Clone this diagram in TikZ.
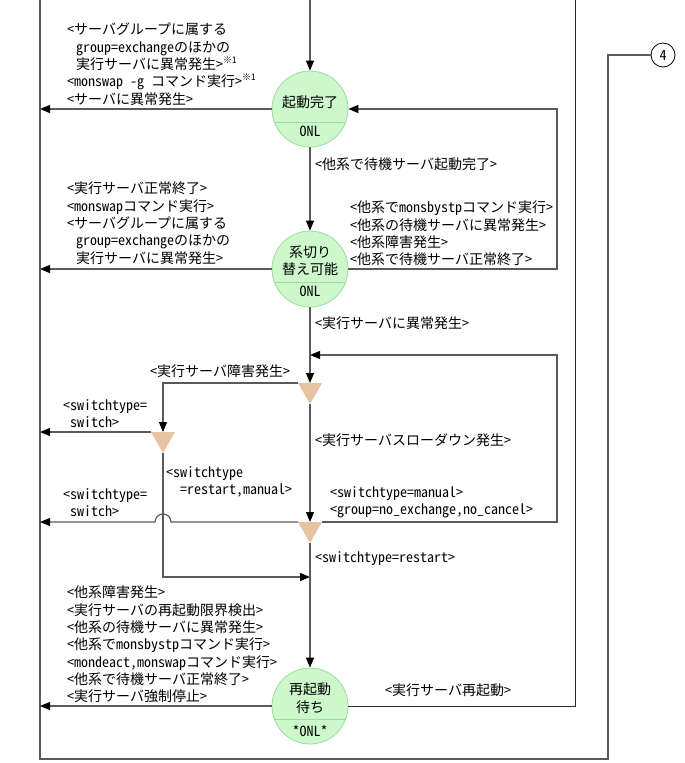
\documentclass[tikz,border=0pt]{standalone}
\usepackage{fontspec}
\setmainfont{Noto Sans CJK JP}[RawFeature={+hwid}]
\usetikzlibrary{arrows.meta}
\definecolor{ln}{HTML}{5A5A5A}
\definecolor{stfill}{HTML}{CCF8CC}
\definecolor{stdraw}{HTML}{9CDC9C}
\definecolor{trifill}{HTML}{E6C4A2}
\newcommand\kome{\raisebox{0.42em}{\fontsize{9}{9}\selectfont ※1}}
\tikzset{
  conn/.style={draw=ln, line width=1.2pt},
  arr/.style={conn, -{Triangle[length=10pt,width=8pt,color=black]}},
  state/.style={circle, draw=stdraw, fill=stfill, line width=0.8pt, minimum size=76pt, inner sep=0pt},
  lbl/.style={anchor=north west, inner sep=0pt, align=left, font=\fontsize{14}{17.3}\selectfont, execute at begin node=\strut},
  ctext/.style={inner sep=0pt, font=\fontsize{14}{17}\selectfont},
  tri/.style={fill=trifill, draw=none},
}
\begin{document}
\begin{tikzpicture}[x=1pt,y=-1pt]
\useasboundingbox (0,0) rectangle (685,763);

% ---- states ----
\node[state] (s1) at (310,109) {};
\node[state] (s2) at (310,269) {};
\node[state] (s3) at (310,706) {};
\foreach \s in {s1,s2,s3}{
  \draw[stdraw, line width=1pt] ([xshift=-35.7pt,yshift=-13pt]\s.center) -- ([xshift=35.7pt,yshift=-13pt]\s.center);
}
\node[ctext] (s1a) at (310,102) {起動完了};
\node[ctext] (s1b) at (310,131) {ONL};
\node[ctext] (s2a) at (310,252) {系切り};
\node[ctext] (s2b) at (310,269) {替え可能};
\node[ctext] (s2c) at (310,291) {ONL};
\node[ctext] (s3a) at (310,689) {再起動};
\node[ctext] (s3b) at (310,707) {待ち};
\node[ctext] (s3c) at (310,731) {*ONL*};

% ---- connector node 4 ----
\node[circle, draw=black, line width=0.8pt, minimum size=24pt, inner sep=0pt, font=\fontsize{14}{14}\selectfont] (n4) at (663,55) {4};

% ---- triangles (decision points) ----
\coordinate (t1) at (310,383); \coordinate (t1l) at (298,383); \coordinate (t1r) at (322,383); \coordinate (t1b) at (310,404);
\coordinate (t2) at (163,432); \coordinate (t2l) at (151,432); \coordinate (t2r) at (175,432); \coordinate (t2b) at (163,453);
\coordinate (t3) at (310,522); \coordinate (t3l) at (298,522); \coordinate (t3r) at (322,522); \coordinate (t3b) at (310,543);
\fill[tri] (t1l) -- (t1r) -- (t1b) -- cycle;
\fill[tri] (t2l) -- (t2r) -- (t2b) -- cycle;
\fill[tri] (t3l) -- (t3r) -- (t3b) -- cycle;

% ---- helper coordinates ----
\coordinate (top) at (310,0);
\coordinate (F0) at (40,0); \coordinate (F1) at (40,759); \coordinate (F2) at (608,759); \coordinate (F3) at (608,55);
\coordinate (L1) at (40,109); \coordinate (L2) at (40,269); \coordinate (L3) at (40,432);
\coordinate (L4) at (40,522); \coordinate (L5) at (40,706);
\coordinate (R1) at (557,109); \coordinate (R2) at (557,269);
\coordinate (R3) at (557,355); \coordinate (J3) at (310,355);
\coordinate (R4) at (557,522);
\coordinate (C1) at (163,383);
\coordinate (C2) at (163,577); \coordinate (J4) at (310,577);
\coordinate (hop) at (163,522);
\coordinate (R5) at (575,706); \coordinate (T5) at (575,0);

% ---- frame ----
\draw[conn] (F0) -- (F1) -- (F2) -- (F3) -- (n4);
\draw[draw=black!85, line width=1pt] (s3) -- (R5) -- (T5);

% ---- connectors ----
\draw[arr] (top) -- (s1);
\draw[arr] (s1) -- (L1);
\draw[arr] (s2) -- (R2) -- (R1) -- (s1);
\draw[arr] (s1) -- (s2);
\draw[arr] (s2) -- (L2);
\draw[arr] (s2) -- (t1);
\draw[arr] (t3r) -- (R4) -- (R3) -- (J3);
\draw[arr] (t1l) -- (C1) -- (t2);
\draw[arr] (t2l) -- (L3);
\draw[arr] (t1b) -- (t3);
\draw[arr] (t3l) -- ([xshift=8pt]hop) arc[start angle=0, end angle=180, radius=8pt] -- (L4);
\draw[arr] (t2b) -- (C2) -- (J4);
\draw[arr] (t3b) -- (s3);
\draw[arr] (s3) -- (L5);

% ---- labels ----
\node[lbl] (a1) at (67,23) {<サーバグループに属する\\\hspace*{9pt}group=exchangeのほかの\\\hspace*{9pt}実行サーバに異常発生>\kome\\<monswap -g コマンド実行>\kome\\<サーバに異常発生>};
\node[lbl] (a2) at (315,157) {<他系で待機サーバ起動完了>};
\node[lbl] (a3) at (350,201) {<他系でmonsbystpコマンド実行>\\<他系の待機サーバに異常発生>\\<他系障害発生>\\<他系で待機サーバ正常終了>};
\node[lbl] (a4) at (67,182) {<実行サーバ正常終了>\\<monswapコマンド実行>\\<サーバグループに属する\\\hspace*{9pt}group=exchangeのほかの\\\hspace*{9pt}実行サーバに異常発生>};
\node[lbl] (a5) at (315,316) {<実行サーバに異常発生>};
\node[lbl] (a6) at (150,364) {<実行サーバ障害発生>};
\node[lbl] (a7) at (63,399) {<switchtype=\\\hspace*{7pt}switch>};
\node[lbl] (a8) at (315,433) {<実行サーバスローダウン発生>};
\node[lbl] (a9) at (166,466) {<switchtype\\\hspace*{14pt}=restart,manual>};
\node[lbl] (a10) at (63,488) {<switchtype=\\\hspace*{7pt}switch>};
\node[lbl] (a11) at (330,486) {<switchtype=manual>\\<group=no\_exchange,no\_cancel>};
\node[lbl] (a12) at (315,550) {<switchtype=restart>};
\node[lbl] (a13) at (67,586) {<他系障害発生>\\<実行サーバの再起動限界検出>\\<他系の待機サーバに異常発生>\\<他系でmonsbystpコマンド実行>\\<mondeact,monswapコマンド実行>\\<他系で待機サーバ正常終了>\\<実行サーバ強制停止>};
\node[lbl] (a14) at (385,683) {<実行サーバ再起動>};
\end{tikzpicture}
\end{document}
